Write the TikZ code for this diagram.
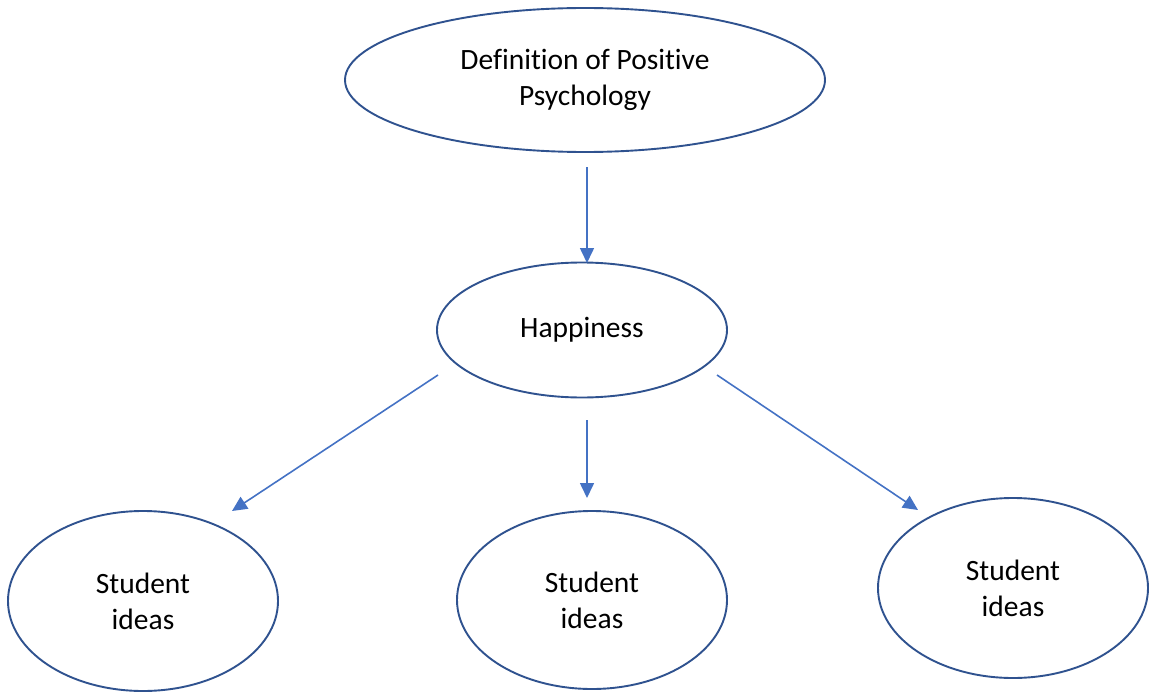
\documentclass[tikz,border=0pt]{standalone}
\usepackage{fontspec}
\setmainfont[Ligatures=NoCommon]{Carlito}
\usetikzlibrary{shapes.geometric,arrows.meta}
\definecolor{edgeblue}{HTML}{2F528F}
\definecolor{arrowblue}{HTML}{4472C4}
\tikzset{
  oval/.style={ellipse, draw=edgeblue, line width=1.9pt, inner sep=0pt, fill=white,
    align=center, font=\fontsize{29.5}{36}\selectfont},
  link/.style={draw=arrowblue, line width=1.6pt, -{Triangle[length=15pt,width=14pt]}}
}
\begin{document}
\begin{tikzpicture}[x=1pt,y=-1pt]
\useasboundingbox (0,0) rectangle (1151,698);
\node[oval, minimum width=480pt, minimum height=144pt] (def) at (585,80) {Definition of Positive\\Psychology};
\node[oval, minimum width=290pt, minimum height=135pt] (hap) at (582,330) {Happiness};
\node[oval, minimum width=270pt, minimum height=180pt] (s1) at (143,601) {Student\\ideas};
\node[oval, minimum width=270pt, minimum height=178pt] (s2) at (592,600) {Student\\ideas};
\node[oval, minimum width=270pt, minimum height=180pt] (s3) at (1013,588) {Student\\ideas};
\coordinate (a0) at (587,167);
\coordinate (a1) at (587,263);
\coordinate (b0) at (438,375);
\coordinate (b1) at (232,511);
\coordinate (c0) at (587,420);
\coordinate (c1) at (587,498);
\coordinate (d0) at (717,375);
\coordinate (d1) at (918,510);
\draw[link] (a0) -- (a1);
\draw[link] (b0) -- (b1);
\draw[link] (c0) -- (c1);
\draw[link] (d0) -- (d1);
\end{tikzpicture}
\end{document}
